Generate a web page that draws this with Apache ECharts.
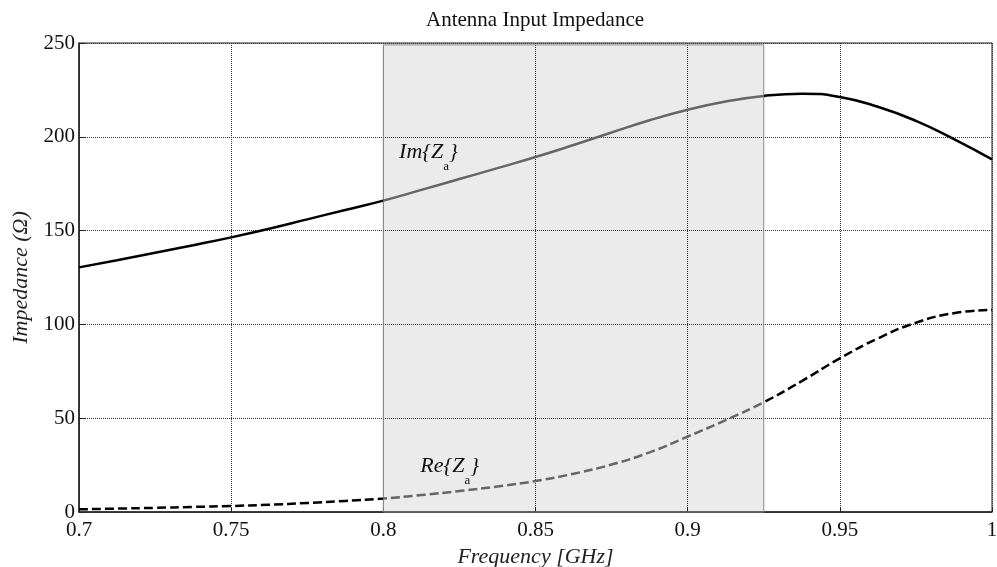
<!DOCTYPE html>
<html>
<head>
<meta charset="utf-8">
<script src="https://cdn.jsdelivr.net/npm/echarts@6/dist/echarts.min.js"></script>
<style>
  html, body { margin: 0; padding: 0; background: #fff; }
  #chart { width: 997px; height: 567px; }
</style>
</head>
<body>
<div id="chart"></div>
<script>
// Frequency samples (GHz), evenly spaced, and input impedance components (ohms)
const freq = [0.7, 0.7125, 0.725, 0.7375, 0.75, 0.7625, 0.775, 0.7875, 0.8, 0.8125, 0.825, 0.8375, 0.85,
              0.8625, 0.875, 0.8875, 0.9, 0.9125, 0.925, 0.9375, 0.95, 0.9625, 0.975, 0.9875, 1.0];
const imValues = [130.4, 134.2, 138.2, 142.2, 146.4, 151, 156, 161, 166, 171.7, 177.5, 183.3, 189.2,
                  195.6, 202.3, 208.8, 214.4, 218.8, 221.8, 223, 221.2, 216, 208.5, 198.8, 188];
const reValues = [1.4, 1.8, 2.2, 2.7, 3.2, 3.9, 4.8, 5.9, 7.2, 9, 11.2, 13.6, 16.5,
                  20.4, 25.3, 31.8, 40.2, 49, 58.5, 69.8, 81.9, 92.5, 100.9, 106, 107.7];

// Operating band highlighted on the plot
const bandStart = 0.8;
const bandEnd = 0.925;
const bandTop = 249;

// Annotation anchors [frequency, impedance]
const imLabelAt = [0.805, 192];
const reLabelAt = [0.812, 24.5];

const xTicks = { min: 0.7, max: 1.0, step: 0.05 };
const yTicks = { min: 0, max: 250, step: 50 };

const serif = 'Liberation Serif, Times New Roman, serif';

function pairs(xs, ys) { return xs.map((x, i) => [x, ys[i]]); }

// Subscript style: smaller glyph pushed below the baseline
const subRich = {
  s: { fontFamily: serif, fontStyle: 'normal', fontSize: 13, color: '#111', padding: [30, 0, 0, 0] }
};

function annotation(at, text) {
  return {
    symbol: 'rect',
    symbolSize: 1,
    itemStyle: { color: 'transparent' },
    data: [{ coord: at }],
    label: {
      show: true,
      position: 'right',
      distance: 0,
      formatter: text,
      fontFamily: serif,
      fontStyle: 'italic',
      fontSize: 22,
      color: '#111',
      rich: subRich
    }
  };
}

const chart = echarts.init(document.getElementById('chart'), null, { renderer: 'canvas' });

chart.setOption({
  animation: false,
  backgroundColor: '#fff',
  title: {
    text: 'Antenna Input Impedance',
    left: 421,
    top: 5,
    textStyle: { fontFamily: serif, fontSize: 21, fontWeight: 'normal', color: '#111' }
  },
  grid: {
    left: 79, right: 5, top: 43, bottom: 55,
    outerBoundsMode: 'none',
    containLabel: false,
    show: true, borderColor: '#222', borderWidth: 1, backgroundColor: 'transparent'
  },
  xAxis: {
    type: 'value',
    min: xTicks.min, max: xTicks.max, interval: xTicks.step,
    name: 'Frequency [GHz]',
    nameLocation: 'middle',
    nameGap: 30,
    nameTextStyle: { fontFamily: serif, fontStyle: 'italic', fontSize: 22, color: '#222' },
    axisLine: { show: true, lineStyle: { color: '#222', width: 1.5 } },
    axisTick: { show: true, inside: true, length: 5, lineStyle: { color: '#222' } },
    axisLabel: {
      fontFamily: serif, fontSize: 21, color: '#111', margin: 8,
      formatter: v => String(+v.toFixed(2))
    },
    splitLine: { show: true, lineStyle: { color: '#333', width: 1, type: [1, 1] } }
  },
  yAxis: {
    type: 'value',
    min: yTicks.min, max: yTicks.max, interval: yTicks.step,
    name: 'Impedance (Ω)',
    nameLocation: 'middle',
    nameGap: 45,
    nameTextStyle: { fontFamily: serif, fontStyle: 'italic', fontSize: 22, color: '#222' },
    axisLine: { show: true, lineStyle: { color: '#222', width: 1.5 } },
    axisTick: { show: true, inside: true, length: 6, lineStyle: { color: '#222' } },
    axisLabel: { fontFamily: serif, fontSize: 21, color: '#111', margin: 4 },
    splitLine: { show: true, lineStyle: { color: '#333', width: 1, type: [1, 1] } }
  },
  visualMap: {
    type: 'piecewise',
    show: false,
    dimension: 0,
    seriesIndex: [0, 1],
    pieces: [
      { lt: bandStart, color: '#000' },
      { gte: bandStart, lte: bandEnd, color: '#666' },
      { gt: bandEnd, color: '#000' }
    ]
  },
  series: [
    {
      name: 'Im{Za}',
      type: 'line',
      data: pairs(freq, imValues),
      smooth: true,
      showSymbol: false,
      lineStyle: { width: 2.5 },
      z: 5,
      markArea: {
        silent: true,
        itemStyle: { color: 'rgba(0,0,0,0.08)', borderColor: '#8a8a8a', borderWidth: 1 },
        data: [[{ coord: [bandStart, 0] }, { coord: [bandEnd, bandTop] }]]
      },
      markPoint: annotation(imLabelAt, 'Im{Z{s|a}}')
    },
    {
      name: 'Re{Za}',
      type: 'line',
      data: pairs(freq, reValues),
      smooth: true,
      showSymbol: false,
      lineStyle: { width: 2.5, type: [9, 4] },
      z: 5,
      markPoint: annotation(reLabelAt, 'Re{Z{s|a}}')
    }
  ]
});
</script>
</body>
</html>
